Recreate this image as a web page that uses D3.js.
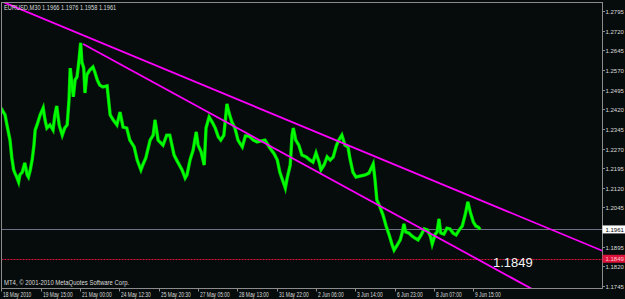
<!DOCTYPE html>
<html><head><meta charset="utf-8">
<script src="https://cdn.jsdelivr.net/npm/d3@7"></script>
<style>
html,body{margin:0;padding:0;background:#060b0b;overflow:hidden;}
svg{display:block;}
text{font-family:"Liberation Sans",Arial,sans-serif;}
</style></head><body>
<svg id="c" width="625" height="299"></svg>
<script>
// ---------- data ----------
const symbolTitle = "EURUSD,M30  1.1966 1.1976 1.1958 1.1961";
const copyright = "MT4, \u00A9 2001-2010 MetaQuotes Software Corp.";
const timeLabels = ["18 May 2010","19 May 15:00","21 May 00:00","24 May 12:30","25 May 20:30","27 May 05:00","28 May 13:00","31 May 22:00","2 Jun 06:00","3 Jun 14:00","6 Jun 23:00","8 Jun 07:00","9 Jun 15:00"];
const timeTickBars = [0,64,128,192,256,320,384,448,512,576,640,704,768];
const priceTicks = [1.2795,1.2720,1.2645,1.2570,1.2495,1.2420,1.2345,1.2270,1.2195,1.2120,1.2045,1.1895,1.1820,1.1745];
// bar index (30-minute bars) and price
const bars = [0,1,6,9,14,17,20,22,25,28,30,34,38,42,44,47,50,53,55,58,63,68,71,74,79,84,87,90,94,99,103,107,110,112,115,117,120,123,126,129,131,134,136,139,144,149,152,156,160,165,172,177,182,188,193,198,204,209,216,221,227,230,235,242,247,250,255,263,269,274,281,287,294,299,302,307,312,317,320,325,330,333,338,343,348,353,357,362,367,370,375,380,385,392,397,403,410,416,423,429,437,444,449,453,462,465,470,473,475,479,484,489,496,502,507,512,517,520,525,530,535,540,545,549,554,559,564,567,572,577,584,592,598,605,608,611,616,621,626,631,636,639,644,649,652,655,658,663,668,673,678,683,688,693,698,701,706,709,712,715,720,725,730,735,740,745,750,755,759,763,768,772,776,779];
const prices = [1.2425,1.2417,1.2398,1.2360,1.2302,1.2234,1.2188,1.2176,1.2161,1.2142,1.2169,1.2180,1.2215,1.2169,1.2161,1.2188,1.2226,1.2283,1.2341,1.2360,1.2398,1.2425,1.2379,1.2348,1.2360,1.2341,1.2398,1.2432,1.2360,1.2321,1.2348,1.2360,1.2455,1.2577,1.2512,1.2467,1.2532,1.2543,1.2600,1.2673,1.2600,1.2577,1.2482,1.2551,1.2570,1.2581,1.2562,1.2532,1.2512,1.2505,1.2509,1.2398,1.2379,1.2360,1.2409,1.2352,1.2348,1.2302,1.2276,1.2226,1.2188,1.2207,1.2234,1.2302,1.2321,1.2379,1.2302,1.2283,1.2321,1.2321,1.2245,1.2218,1.2188,1.2157,1.2169,1.2226,1.2264,1.2333,1.2283,1.2257,1.2207,1.2348,1.2390,1.2371,1.2348,1.2314,1.2302,1.2321,1.2440,1.2409,1.2371,1.2348,1.2302,1.2276,1.2318,1.2318,1.2302,1.2295,1.2299,1.2302,1.2272,1.2249,1.2226,1.2180,1.2119,1.2157,1.2207,1.2321,1.2348,1.2302,1.2283,1.2245,1.2238,1.2226,1.2218,1.2253,1.2218,1.2188,1.2207,1.2238,1.2226,1.2238,1.2280,1.2302,1.2321,1.2283,1.2276,1.2234,1.2180,1.2161,1.2165,1.2169,1.2176,1.2211,1.2150,1.2073,1.2047,1.2016,1.1974,1.1940,1.1901,1.1882,1.1901,1.1921,1.1947,1.1982,1.1951,1.1947,1.1936,1.1928,1.1921,1.1940,1.1963,1.1959,1.1936,1.1905,1.1943,1.1951,1.2001,1.1947,1.1943,1.1966,1.1963,1.1947,1.1940,1.1959,1.1974,1.2020,1.2066,1.2027,1.1989,1.1974,1.1970,1.1961];
const upperTrendBars = [0, 925];
const upperTrendPrices = [1.2832, 1.1931];
const lowerTrendBars = [133, 600];
const lowerTrendPrices = [1.2669, 1.2071];
const bidPrice = 1.1961;
const levelPrice = 1.1849;
const levelTextBar = 800;
const levelTextPrice = 1.1817;

// ---------- drawing ----------
const svg = d3.select("#c");
const W = 625, H = 299;
const plotL = 1.5, plotT = 2.5, plotR = 602.5, plotB = 288.5;
const x = d3.scaleLinear().domain([0, 977]).range([1.4, 601.8]);
const y = d3.scaleLinear().domain([1.1745, 1.2795]).range([286, 11]);
const fmt = d3.format(".4f");

svg.append("rect").attr("width", W).attr("height", H).attr("fill", "#060b0b");

svg.append("defs").append("clipPath").attr("id", "clip")
  .append("rect").attr("x", plotL + 0.5).attr("y", plotT + 0.5)
  .attr("width", plotR - plotL - 1).attr("height", plotB - plotT - 1);

function fit(sel, factor) {
  sel.each(function () {
    const n = this.getComputedTextLength();
    d3.select(this).attr("textLength", n * factor).attr("lengthAdjust", "spacingAndGlyphs");
  });
}

const g = svg.append("g").attr("clip-path", "url(#clip)");

// bid line
g.append("line").attr("x1", plotL).attr("x2", plotR)
  .attr("y1", Math.round(y(bidPrice)) + 0.5).attr("y2", Math.round(y(bidPrice)) + 0.5)
  .attr("stroke", "#707086").attr("stroke-width", 1);
// level line
g.append("line").attr("x1", plotL).attr("x2", plotR)
  .attr("y1", Math.round(y(levelPrice)) + 0.5).attr("y2", Math.round(y(levelPrice)) + 0.5)
  .attr("stroke", "#dc143c").attr("stroke-width", 1).attr("stroke-dasharray", "2,1");

// price series
const line = d3.line().x((d) => x(d[0])).y((d) => y(d[1])).curve(d3.curveLinear);
const series = bars.map((b, i) => [b, prices[i]]);
g.append("path").datum(series).attr("d", line)
  .attr("fill", "none").attr("stroke", "#00c800").attr("stroke-width", 3.4)
  .attr("stroke-linejoin", "miter");
g.append("path").datum(series).attr("d", line)
  .attr("fill", "none").attr("stroke", "#00ff00").attr("stroke-width", 2)
  .attr("stroke-linejoin", "miter");

// trend lines (rays)
function extend(bs, ps, bEnd) {
  return ps[0] + (ps[1] - ps[0]) * (bEnd - bs[0]) / (bs[1] - bs[0]);
}
const endBar = 1100;
g.append("line")
  .attr("x1", x(upperTrendBars[0])).attr("y1", y(upperTrendPrices[0]))
  .attr("x2", x(endBar)).attr("y2", y(extend(upperTrendBars, upperTrendPrices, endBar)))
  .attr("stroke", "#ff00ff").attr("stroke-width", 1.8);
g.append("line")
  .attr("x1", x(lowerTrendBars[0])).attr("y1", y(lowerTrendPrices[0]))
  .attr("x2", x(endBar)).attr("y2", y(extend(lowerTrendBars, lowerTrendPrices, endBar)))
  .attr("stroke", "#ff00ff").attr("stroke-width", 1.8);

// level text
g.append("text").attr("x", x(levelTextBar)).attr("y", y(levelTextPrice))
  .attr("fill", "#f4f4f4").attr("font-size", 13).text(fmt(levelPrice));

// frame
svg.append("rect").attr("x", plotL).attr("y", plotT)
  .attr("width", plotR - plotL).attr("height", plotB - plotT)
  .attr("fill", "none").attr("stroke", "#8c8c8c").attr("stroke-width", 1);

// right axis
const ra = svg.append("g");
priceTicks.forEach((p) => {
  const yy = Math.round(y(p)) + 0.5;
  ra.append("line").attr("x1", plotR).attr("x2", plotR + 2.5).attr("y1", yy).attr("y2", yy)
    .attr("stroke", "#8c8c8c");
  ra.append("text").attr("x", 605.5).attr("y", yy + 2.2)
    .attr("fill", "#dcdcdc").attr("font-size", 6).text(fmt(p));
});

// bid label box
const by = y(bidPrice);
svg.append("rect").attr("x", plotR).attr("y", by - 4).attr("width", W - plotR).attr("height", 8).attr("fill", "#ffffff");
svg.append("text").attr("x", 605.5).attr("y", by + 2.2).attr("fill", "#000").attr("font-size", 6).text(fmt(bidPrice));
// level label box
const ly = y(levelPrice);
svg.append("rect").attr("x", plotR).attr("y", ly - 4).attr("width", W - plotR).attr("height", 8).attr("fill", "#dc143c");
svg.append("text").attr("x", 605.5).attr("y", ly + 2.2).attr("fill", "#ffc8d2").attr("font-size", 6).text(fmt(levelPrice));

// bottom axis
const ba = svg.append("g");
timeTickBars.forEach((b, i) => {
  const xx = Math.round(x(b)) + 0.5;
  ba.append("line").attr("x1", xx).attr("x2", xx).attr("y1", plotB).attr("y2", plotB + 3)
    .attr("stroke", "#8c8c8c");
  ba.append("text").attr("class", "tl").attr("x", xx + 1.5).attr("y", 297)
    .attr("fill", "#dcdcdc").attr("font-size", 7).text(timeLabels[i]);
});
fit(ba.selectAll("text.tl"), 0.7);

// title & copyright
const tt = svg.append("text").attr("x", 4).attr("y", 10).attr("fill", "#dcdcdc").attr("font-size", 7).text(symbolTitle);
fit(tt, 0.81);
const ct = svg.append("text").attr("x", 4).attr("y", 285).attr("fill", "#dcdcdc").attr("font-size", 7).text(copyright);
fit(ct, 0.85);
</script>
</body></html>
